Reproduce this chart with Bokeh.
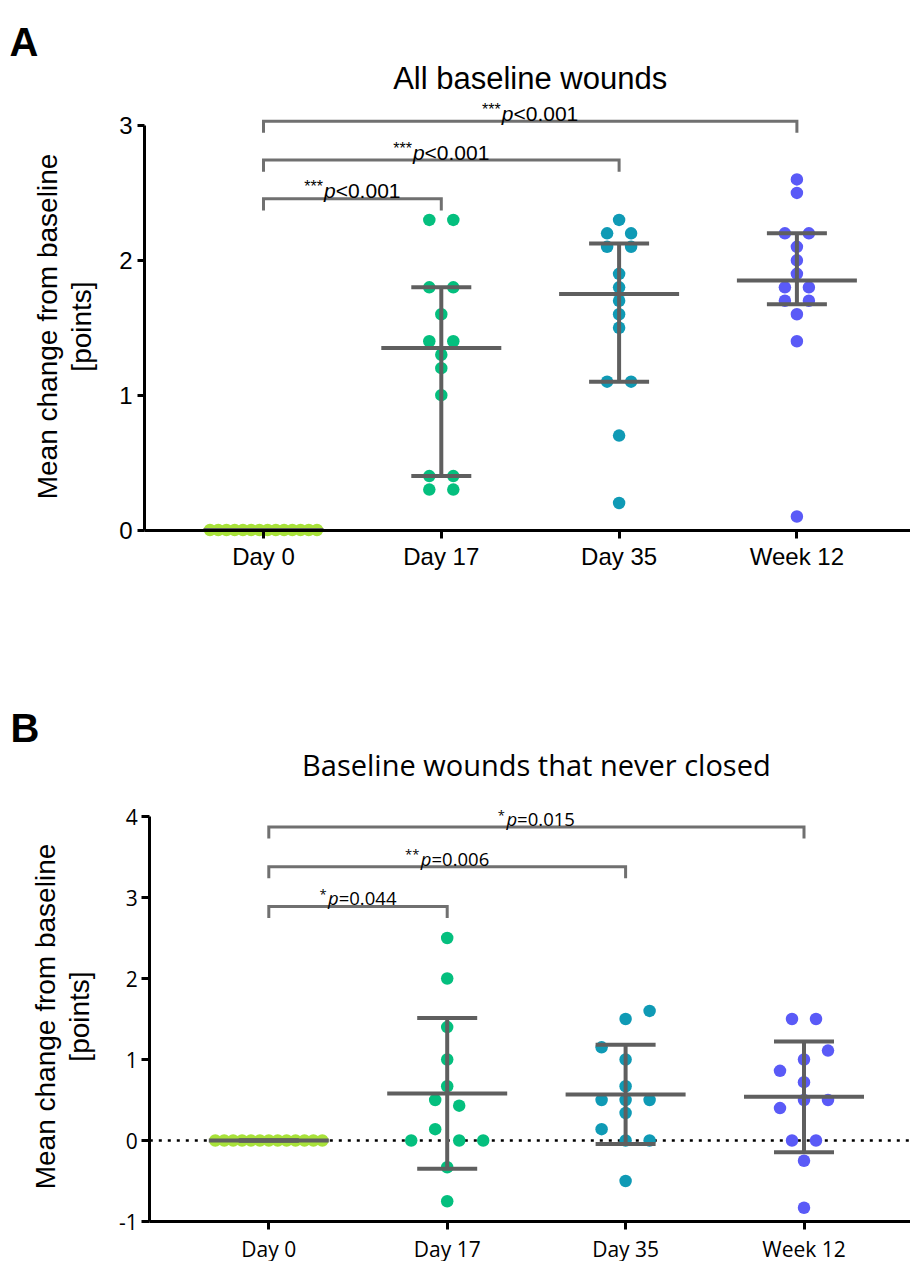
import numpy as np
from bokeh.plotting import figure
from bokeh.models import Label, FixedTicker
from bokeh.layouts import column
from bokeh.embed import file_html
from bokeh.resources import INLINE

# ---------------- data ----------------
categories = ["Day 0", "Day 17", "Day 35", "Week 12"]
dot_colors = ["#A8E23A", "#04BF7E", "#0F9AB5", "#5A5AF7"]

a_day0 = [0.0, 0.0, 0.0, 0.0, 0.0, 0.0, 0.0, 0.0, 0.0, 0.0, 0.0, 0.0, 0.0, 0.0]
a_day17 = [2.3, 2.3, 1.8, 1.8, 1.6, 1.4, 1.4, 1.3, 1.2, 1.0, 0.4, 0.4, 0.3, 0.3]
a_day35 = [2.3, 2.2, 2.2, 2.1, 2.1, 1.9, 1.8, 1.7, 1.6, 1.5, 1.1, 1.1, 0.7, 0.2]
a_week12 = [2.6, 2.5, 2.2, 2.2, 2.1, 2.0, 1.9, 1.8, 1.8, 1.7, 1.7, 1.6, 1.4, 0.1]

b_day0 = [0.0, 0.0, 0.0, 0.0, 0.0, 0.0, 0.0, 0.0, 0.0, 0.0, 0.0, 0.0, 0.0]
b_day17 = [2.5, 2.0, 1.4, 1.0, 0.67, 0.5, 0.43, 0.0, 0.14, 0.0, 0.0, -0.33, -0.75]
b_day35 = [1.6, 1.5, 1.15, 1.0, 0.67, 0.5, 0.5, 0.5, 0.34, 0.14, 0.0, 0.0, -0.5]
b_week12 = [1.5, 1.5, 1.11, 1.0, 0.86, 0.72, 0.4, 0.5, 0.5, 0.0, 0.0, -0.25, -0.83]

a_title = "All baseline wounds"
b_title = "Baseline wounds that never closed"
y_label_lines = ["Mean change from baseline", "[points]"]
a_yticks = [0, 1, 2, 3]
b_yticks = [-1, 0, 1, 2, 3, 4]
a_tests = [(0, 1, "***", "<0.001"), (0, 2, "***", "<0.001"), (0, 3, "***", "<0.001")]
b_tests = [(0, 1, "*", "=0.044"), (0, 2, "**", "=0.006"), (0, 3, "*", "=0.015")]

# ---------------- styles / layout ----------------
LINE_GRAY = "#5f5f5f"
BRACKET_GRAY = "#707070"
FIG_W = 910

ARIAL_W = {"*": 0.389, "p": 0.556, "<": 0.584, "=": 0.584, ".": 0.278}
OPEN_W = {"*": 0.551, "p": 0.60, "<": 0.572, "=": 0.572, ".": 0.266}


def text_w(s, table, size, digit):
    return sum(table.get(c, digit) for c in s) * size


def beeswarm(values, ppu_y, thr_px=12.5, unit_px=12.0, max_half_px=53.5, tight_px=7.0):
    n = len(values)
    order = sorted(range(n), key=lambda k: (-values[k], k))
    bins = []
    for k in order:
        if bins and (values[bins[-1][0]] - values[k]) * ppu_y < thr_px:
            bins[-1].append(k)
        else:
            bins.append([k])
    offs = [0.0] * n
    side = 1
    for b in bins:
        m = len(b)
        if m == 1:
            continue
        sep = abs(values[b[0]] - values[b[-1]]) * ppu_y
        if m == 2 and sep >= tight_px:
            hi, lo = (b[0], b[1]) if values[b[0]] >= values[b[1]] else (b[1], b[0])
            offs[hi] = side * 2 * unit_px
            offs[lo] = 0.0
            side = -side
            continue
        b = sorted(b)
        spacing = min(2 * unit_px, 2 * max_half_px / (m - 1))
        for i, k in enumerate(b):
            offs[k] = (i - (m - 1) / 2) * spacing
    return offs


def make_panel(cfg, groups, stat_kind, tests, title, letter, yticks, bounds):
    top = cfg["fig_top"]
    h = cfg["fig_h"]
    ppu = cfg["ppu"]
    ppx = cfg["ppx"]
    zero = cfg["zero"]
    c0 = cfg["cat0"]

    def xd(px):
        return (px - c0) / ppx

    def yd(py):
        return (zero - py) / ppu

    p = figure(width=FIG_W, height=h, output_backend="svg",
               toolbar_location=None,
               x_range=(xd(0), xd(FIG_W)),
               y_range=(yd(top + h), yd(top)),
               min_border=0, min_border_left=0, min_border_right=0,
               min_border_top=0, min_border_bottom=0)
    p.outline_line_color = None
    p.grid.visible = False
    p.background_fill_color = "white"
    p.border_fill_color = "white"

    x_axis_extent = (xd(cfg["yaxis_x"]), xd(FIG_W))

    # axes (library axes placed at fixed data locations)
    for ax in (p.xaxis, p.yaxis):
        ax.axis_line_width = 3
        ax.axis_line_color = "black"
        ax.major_tick_line_width = 3
        ax.major_tick_line_color = "black"
        ax.major_tick_in = 0
        ax.minor_tick_line_color = None
        ax.major_label_text_color = "black"
    p.xaxis.ticker = FixedTicker(ticks=list(range(len(categories))))
    p.xaxis.major_label_overrides = {i: c for i, c in enumerate(categories)}
    p.xaxis.major_tick_out = 8
    p.xaxis.major_label_standoff = cfg["xstand"]
    p.xaxis.major_label_text_font = cfg["tick_font"]
    p.xaxis.major_label_text_font_size = cfg["tick_size"]
    p.xaxis.fixed_location = bounds[0]
    p.xaxis.bounds = x_axis_extent
    p.yaxis.ticker = FixedTicker(ticks=yticks)
    p.yaxis.major_label_overrides = {t: str(t) for t in yticks}
    p.yaxis.bounds = bounds
    p.yaxis.fixed_location = xd(cfg["yaxis_x"])
    p.yaxis.major_tick_out = cfg["ytick_out"]
    p.yaxis.major_label_standoff = cfg["ystand"]
    p.yaxis.major_label_text_font = cfg["tick_font"]
    p.yaxis.major_label_text_font_size = cfg["tick_size"]

    if cfg["zero_line"]:
        p.segment(x0=[x_axis_extent[0]], x1=[x_axis_extent[1]], y0=[0], y1=[0],
                  line_color="black", line_width=2.5, line_dash="3 6")

    # dots
    for i, vals in enumerate(groups):
        offs = beeswarm(vals, ppu)
        xs = [i + o / ppx for o in offs]
        p.scatter(xs, vals, size=12.5, fill_color=dot_colors[i], line_color=None)

    # summary lines
    for i, vals in enumerate(groups):
        arr = np.array(vals, dtype=float)
        if stat_kind == "median":
            lo, c, hi = np.percentile(arr, [25, 50, 75], method="weibull")
        else:
            c = arr.mean()
            sd = arr.std(ddof=1)
            lo, hi = c - sd, c + sd
        cap = 30 / ppx
        half = 60 / ppx
        p.segment(x0=[i], y0=[lo], x1=[i], y1=[hi], line_width=4, line_color=LINE_GRAY)
        p.segment(x0=[i - cap, i - cap], y0=[lo, hi], x1=[i + cap, i + cap], y1=[lo, hi],
                  line_width=4, line_color=LINE_GRAY)
        p.segment(x0=[i - half], y0=[c], x1=[i + half], y1=[c], line_width=4,
                  line_color=LINE_GRAY)

    # brackets with p-values
    leg = cfg["leg_px"] / ppu
    for k, (i0, i1, stars, txt) in enumerate(tests):
        yb = cfg["br_base"] + k * cfg["br_step"]
        p.multi_line(xs=[[i0, i0, i1, i1]], ys=[[yb - leg, yb, yb, yb - leg]],
                     line_width=3, line_color=BRACKET_GRAY, line_join="miter")
        f = cfg["pv_font"]
        fs = cfg["pv_size"]
        ss = cfg["star_size"]
        table = cfg["wtab"]
        w_s = text_w(stars, table, ss, 0.556)
        w_p = text_w("p", table, fs, 0.556)
        w_r = text_w(txt, table, fs, cfg["digit_w"])
        total = w_s + 1 + w_p + w_r
        mid = (i0 + i1) / 2
        junction = mid + (-total / 2 + w_s + 1 + w_p) / ppx
        yt = yb + cfg["pv_gap"] / ppu
        p.add_layout(Label(x=junction, y=yt, text="p", text_font=f, text_font_style="italic",
                           text_font_size=f"{fs}px", text_align="right",
                           text_baseline="alphabetic", text_color="black"))
        p.add_layout(Label(x=junction, y=yt, text=txt, text_font=f,
                           text_font_size=f"{fs}px", text_align="left",
                           text_baseline="alphabetic", text_color="black"))
        p.add_layout(Label(x=junction - (w_p + 1) / ppx, y=yt + cfg["star_raise"] / ppu,
                           text=stars, text_font=f, text_font_size=f"{ss}px",
                           text_align="right", text_baseline="alphabetic",
                           text_color="black"))

    # title, panel letter, y label
    p.add_layout(Label(x=(len(categories) - 1) / 2, y=yd(cfg["title_base"]), text=title,
                       text_font=cfg["title_font"], text_font_size=cfg["title_size"],
                       text_align="center", text_baseline="alphabetic", text_color="black"))
    p.add_layout(Label(x=xd(cfg["letter_left"]), y=yd(cfg["letter_base"]), text=letter,
                       text_font="Liberation Sans", text_font_style="bold",
                       text_font_size="40px", text_align="left",
                       text_baseline="alphabetic", text_color="black"))
    for line, bx in zip(y_label_lines, cfg["ylab_base_x"]):
        p.add_layout(Label(x=xd(bx), y=yd(cfg["ylab_center_y"]), text=line,
                           angle=np.pi / 2, text_font="Liberation Sans",
                           text_font_size="28px", text_align="center",
                           text_baseline="alphabetic", text_color="black"))
    return p


cfg_a = dict(fig_top=0, fig_h=630, yaxis_x=144, zero=529.5, ppu=134.83, cat0=263.0,
             ppx=177.8, xstand=5, ystand=5, ytick_out=7, tick_font="Liberation Sans",
             tick_size="24px", zero_line=False, leg_px=11.6, br_base=2.456, br_step=0.288,
             pv_font="Liberation Sans", pv_size=21, star_size=16, star_raise=4,
             pv_gap=8, wtab=ARIAL_W, digit_w=0.556,
             title_font="Liberation Sans", title_size="31px", title_base=78,
             letter_left=9, letter_base=41, ylab_base_x=[47, 81], ylab_center_y=326)

cfg_b = dict(fig_top=630, fig_h=631, yaxis_x=149.3, zero=1140.0, ppu=81.0, cat0=268.3,
             ppx=178.4, xstand=5, ystand=4, ytick_out=8, tick_font="Open Sans",
             tick_size="21px", zero_line=True, leg_px=11.5, br_base=2.889, br_step=0.49,
             pv_font="Open Sans", pv_size=18.5, star_size=13, star_raise=4,
             pv_gap=8.5, wtab=OPEN_W, digit_w=0.572,
             title_font="Open Sans", title_size="29px", title_base=764,
             letter_left=10, letter_base=727, ylab_base_x=[45, 78.5], ylab_center_y=1016)

pa = make_panel(cfg_a, [a_day0, a_day17, a_day35, a_week12], "median", a_tests,
                a_title, "A", a_yticks, (0, 3))
pb = make_panel(cfg_b, [b_day0, b_day17, b_day35, b_week12], "mean", b_tests,
                b_title, "B", b_yticks, (-1, 4))

layout = column(pa, pb, spacing=0)
open("out.html", "w").write(file_html(layout, INLINE))
